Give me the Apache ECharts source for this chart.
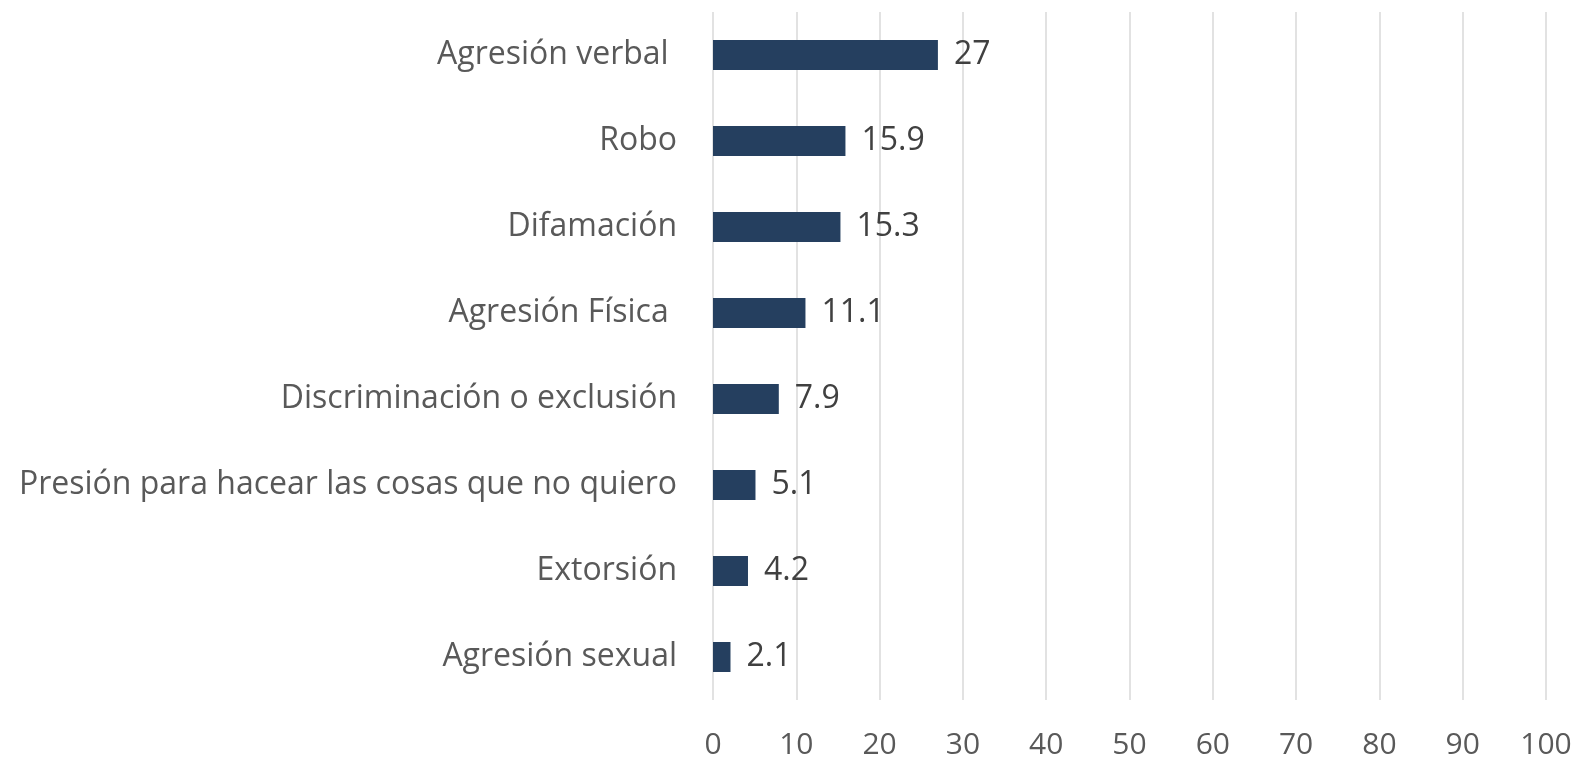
<!DOCTYPE html>
<html>
<head>
<meta charset="utf-8">
<script src="https://cdn.jsdelivr.net/npm/echarts@6/dist/echarts.min.js"></script>
<style>
  html, body { margin: 0; padding: 0; background: #fff; }
  #chart { width: 1579px; height: 763px; }
</style>
</head>
<body>
<div id="chart"></div>
<script>
// categories listed bottom to top (category axis starts at the bottom)
const categories = [
  'Agresión sexual',
  'Extorsión',
  'Presión para hacear las cosas que no quiero',
  'Discriminación o exclusión',
  'Agresión Física ',
  'Difamación',
  'Robo',
  'Agresión verbal '
]
const values = [2.1, 4.2, 5.1, 7.9, 11.1, 15.3, 15.9, 27]
const xTicks = [0, 100, 10]

const myChart = echarts.init(document.getElementById('chart'))
const option = {
  animation: false,
  textStyle: { fontFamily: 'Open Sans' },
  grid: {
    left: 713,
    right: 33,
    top: 12,
    bottom: 63
  },
  xAxis: {
    type: 'value',
    min: xTicks[0],
    max: xTicks[1],
    interval: xTicks[2],
    axisLine: { show: false },
    axisTick: { show: false },
    splitLine: { lineStyle: { color: '#d9d9d9', width: 1.5 } },
    axisLabel: { color: '#595959', fontSize: 30, margin: 30 }
  },
  yAxis: {
    type: 'category',
    data: categories,
    axisLine: { show: false },
    axisTick: { show: false },
    axisLabel: { color: '#595959', fontSize: 32, margin: 36 }
  },
  series: [
    {
      type: 'bar',
      data: values,
      barWidth: 30,
      itemStyle: { color: '#253f5f' },
      label: {
        show: true,
        position: 'right',
        distance: 16,
        color: '#404040',
        fontSize: 32
      }
    }
  ]
}
myChart.setOption(option)
</script>
</body>
</html>
